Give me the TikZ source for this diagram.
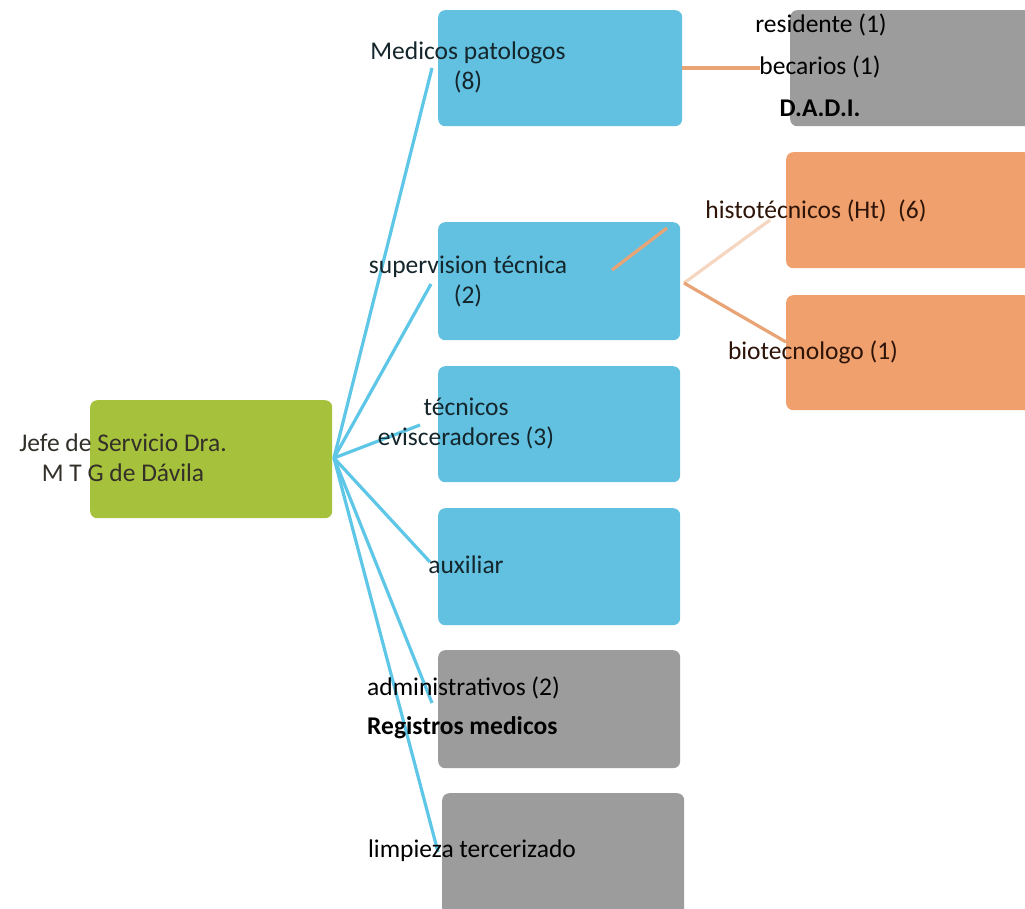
\documentclass[tikz,border=0pt]{standalone}
\usepackage{fontspec}
\setmainfont{Carlito}
\definecolor{boxblue}{HTML}{62C1E0}
\definecolor{boxgray}{HTML}{9C9C9C}
\definecolor{boxorange}{HTML}{EFA06C}
\definecolor{boxgreen}{HTML}{A6C23C}
\definecolor{linkblue}{HTML}{5EC6E6}
\definecolor{linkorange}{HTML}{E9A476}
\definecolor{txtteal}{HTML}{14262C}
\definecolor{txtbrown}{HTML}{2E1408}
\begin{document}
\begin{tikzpicture}[x=1pt,y=-1pt,
  box/.style={rectangle, rounded corners=7pt, inner sep=0pt, anchor=north west},
  lbl/.style={font=\fontsize{25.5}{30}\selectfont, align=center, inner sep=0pt},
  bluelink/.style={draw=linkblue, line width=3.2pt},
  orangelink/.style={draw=linkorange, line width=3.2pt}]
\useasboundingbox[fill=white] (0,0) rectangle (1025,908);
% boxes
\node[box, fill=boxgreen, minimum width=242pt, minimum height=118pt] (root) at (90,400) {};
\node[box, fill=boxblue, minimum width=244pt, minimum height=116pt] (b1) at (438,10) {};
\node[box, fill=boxblue, minimum width=242pt, minimum height=118pt] (b2) at (438,222) {};
\node[box, fill=boxblue, minimum width=242pt, minimum height=116pt] (b3) at (438,366) {};
\node[box, fill=boxblue, minimum width=242pt, minimum height=117pt] (b4) at (438,508) {};
\node[box, fill=boxgray, minimum width=242pt, minimum height=118pt] (g1) at (438,650) {};
\node[box, fill=boxgray, minimum width=242pt, minimum height=122pt] (g2) at (442,793) {};
\node[box, fill=boxgray, minimum width=245pt, minimum height=116pt] (g3) at (790,10) {};
\node[box, fill=boxorange, minimum width=245pt, minimum height=116pt] (o1) at (786,152) {};
\node[box, fill=boxorange, minimum width=245pt, minimum height=115pt] (o2) at (786,295) {};
% connector end points
\coordinate (e1) at (432,68);
\coordinate (e2) at (431,284);
\coordinate (e3) at (420,425);
\coordinate (e4) at (430,562);
\coordinate (e5) at (432,703);
\coordinate (e6) at (438,852);
\coordinate (r) at (334,458);
\foreach \e in {e1,e2,e3,e4,e5,e6} \draw[bluelink] (r) -- (\e);
% orange connectors
\coordinate (c1) at (682,68);
\coordinate (c1e) at (760,68);
\draw[orangelink] (c1) -- (c1e);
\coordinate (c2) at (684,283);
\coordinate (c2a) at (770,220);
\coordinate (c2b) at (786,342);
\draw[draw=linkorange!45, line width=3.2pt] (c2) -- (c2a);
\draw[orangelink] (c2) -- (c2b);
\coordinate (s1) at (612,270);
\coordinate (s2) at (667,228);
\draw[orangelink] (s1) -- (s2);
% labels
\node[lbl, text=black!85!olive] (troot) at (123,458) {Jefe de Servicio Dra.\\M T G de Dávila};
\node[lbl, text=txtteal] (t1) at (468,67) {Medicos patologos\\(8)};
\node[lbl, text=txtteal] (t2) at (468,281) {supervision técnica\\(2)};
\node[lbl, text=txtteal] (t3) at (466,423) {técnicos\\evisceradores (3)};
\node[lbl, text=txtteal] (t4) at (466,565) {auxiliar};
\node[lbl, text=black, align=left, anchor=west, font=\fontsize{25.5}{39}\selectfont] (t5) at (367,708) {administrativos (2)\\\textbf{Registros medicos}};
\node[lbl, text=black] (t6) at (472,851) {limpieza tercerizado};
\node[lbl, text=black] (t7a) at (821,25) {residente (1)};
\node[lbl, text=black] (t7b) at (820,67) {becarios (1)};
\node[lbl, text=black, font=\fontsize{25.5}{30}\selectfont\bfseries] (t7c) at (820,108) {D.A.D.I.};
\node[lbl, text=txtbrown] (t8) at (816,211) {histotécnicos (Ht)\ \ (6)};
\node[lbl, text=txtbrown] (t9) at (813,352) {biotecnologo (1)};
\end{tikzpicture}
\end{document}
